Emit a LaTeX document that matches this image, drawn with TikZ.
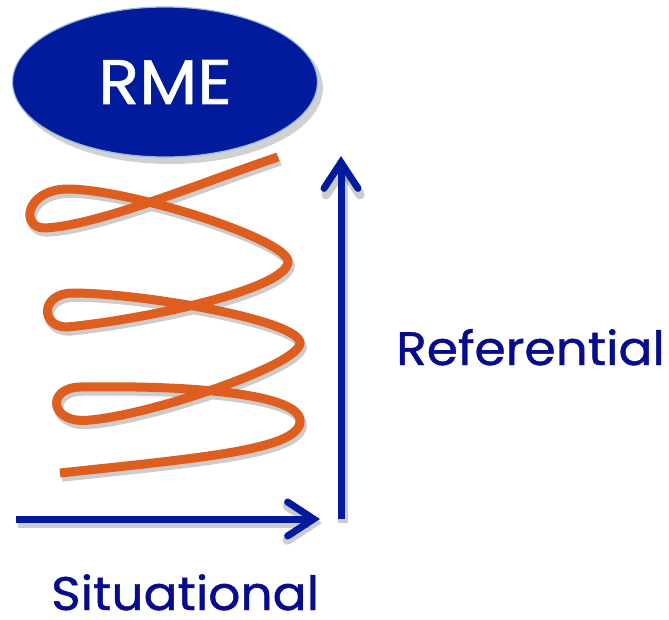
\documentclass[tikz,border=0pt]{standalone}
\usepackage{fontspec}
\setmainfont{Poppins}
\newfontfamily\lblfont{Poppins}[FakeBold=1,FakeStretch=1.07]
\usetikzlibrary{arrows.meta,shapes.geometric}
\definecolor{navy}{RGB}{2,26,156}
\definecolor{txtblue}{RGB}{6,12,140}
\definecolor{orng}{RGB}{221,94,30}
\definecolor{rim}{RGB}{150,185,215}
\begin{document}
\begin{tikzpicture}[x=1pt,y=-1pt,
  shade/.style={preaction={draw=black,opacity=0.2,line width=9.5pt,transform canvas={xshift=2pt,yshift=-4pt}}},
  spiral/.style={draw=orng,line width=9pt,line cap=butt,line join=round,shade},
  axis/.style={draw=navy,line width=7pt,shade,-{Straight Barb[length=26pt,width=34pt,line cap=round]}},
  lbl/.style={text=txtblue,font=\lblfont\fontsize{47}{50}\selectfont,inner sep=0pt,text depth=0pt}]
\path[use as bounding box] (0,0) rectangle (669,619);
% ellipse shadow
\fill[black,opacity=0.18] (170,88) ellipse [x radius=153, y radius=76];
\node (rme) [ellipse,fill=navy,draw=rim,line width=1.2pt,minimum width=305pt,minimum height=150pt,inner sep=0pt,text=white,font=\lblfont\fontsize{63}{66}\selectfont] at (165,82) {RME};
% spiral
\path[spiral] (278,157) .. controls (200,183) and (100,225) .. (45,228)
  .. controls (20,228) and (25,190) .. (67,189)
  .. controls (130,189) and (290,240) .. (288,262)
  .. controls (286,290) and (140,320) .. (67,327)
  .. controls (40,327) and (40,293) .. (73,293)
  .. controls (140,293) and (300,320) .. (300,343)
  .. controls (300,365) and (150,415) .. (90,420)
  .. controls (50,425) and (45,388) .. (80,387)
  .. controls (200,385) and (305,395) .. (300,423)
  .. controls (295,450) and (200,458) .. (60,473);
% axes
\coordinate (h0) at (16,519);
\coordinate (h1) at (320,519);
\coordinate (v0) at (341,519);
\coordinate (v1) at (341,156);
\draw[axis] (h0) -- (h1);
\draw[axis] (v0) -- (v1);
% labels
\node (ref) [lbl,anchor=base west] at (396,365) {Referential};
\node (sit) [lbl,anchor=base west] at (51,610) {Situational};
\end{tikzpicture}
\end{document}
